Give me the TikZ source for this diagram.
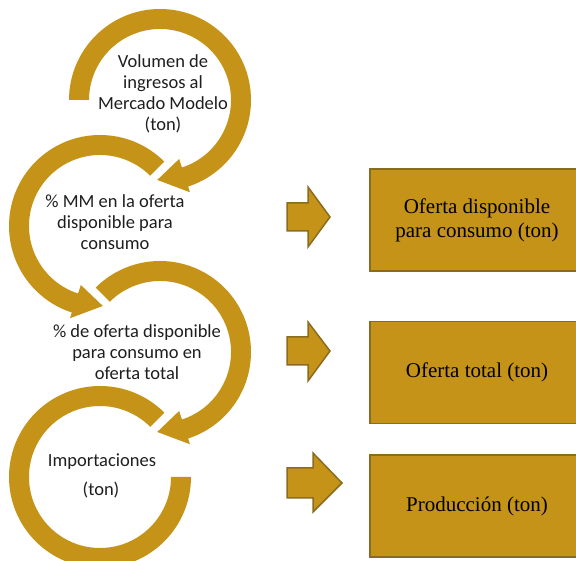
\documentclass[tikz,border=0pt]{standalone}
\usepackage{fontspec}
\setmainfont{Liberation Serif}
\newfontfamily\calib{Carlito}
\definecolor{gold}{RGB}{196,147,23}
\definecolor{goldedge}{RGB}{139,107,30}
\definecolor{ringink}{RGB}{30,30,30}
\begin{document}
\begin{tikzpicture}[x=1pt,y=1pt,
  ring/.style={fill=gold},
  blockarrow/.style={fill=gold,draw=goldedge,line width=1.5pt,line join=miter},
  outbox/.style={draw=goldedge,fill=gold,line width=1.2pt,minimum width=214pt,minimum height=102pt,inner sep=0pt,font=\fontsize{21}{24}\selectfont,align=center,text=black},
  ringtext/.style={font=\calib\fontsize{18.5}{20.8}\selectfont,align=center,text=ringink,inner sep=0pt}]
\clip (0,0) rectangle (576,560);
% ring 1
\fill[ring,shift={(160pt,460pt)}] (180:91pt) arc[start angle=180,end angle=-72,radius=91pt] -- (-72:97pt) -- (-92:80pt) -- (-72:62pt) -- (-72:71pt) arc[start angle=-72,end angle=180,radius=71pt] -- cycle;
% ring 2
\fill[ring,shift={(100pt,334pt)}] (45:91pt) arc[start angle=45,end angle=252,radius=91pt] -- (252:97pt) -- (272:80pt) -- (252:62pt) -- (252:71pt) arc[start angle=252,end angle=45,radius=71pt] -- cycle;
% ring 3
\fill[ring,shift={(160pt,208pt)}] (135:91pt) arc[start angle=135,end angle=-72,radius=91pt] -- (-72:97pt) -- (-92:80pt) -- (-72:62pt) -- (-72:71pt) arc[start angle=-72,end angle=135,radius=71pt] -- cycle;
% ring 4
\fill[ring,shift={(100pt,83pt)}] (45:91pt) arc[start angle=45,end angle=360,radius=91pt] -- (0:71pt) arc[start angle=360,end angle=45,radius=71pt] -- cycle;
% ring texts
\node[ringtext] (t1) at (163,466) {Volumen de\\ingresos al\\Mercado Modelo\\(ton)};
\node[ringtext] (t2) at (115,338) {\% MM en la oferta\\disponible para\\consumo};
\node[ringtext] (t3) at (137,208) {\% de oferta disponible\\para consumo en\\oferta total};
\node[ringtext] (t4a) at (102,98) {Importaciones};
\node[ringtext] (t4b) at (101,70) {(ton)};
% block arrows
\draw[blockarrow] (287,357) -- (308,357) -- (308,373) -- (330,343) -- (308,313) -- (308,329) -- (287,329) -- cycle;
\draw[blockarrow] (287,223) -- (308,223) -- (308,238) -- (330,209) -- (308,179) -- (308,195) -- (287,195) -- cycle;
\draw[blockarrow] (287,92) -- (313,92) -- (313,107) -- (342,77) -- (313,48) -- (313,62) -- (287,62) -- cycle;
% output boxes
\node[outbox] (b1) at (477,340) {Oferta disponible\\para consumo (ton)};
\node[outbox] (b2) at (477,187.5) {Oferta total (ton)};
\node[outbox] (b3) at (477,54) {Producción (ton)};
\end{tikzpicture}
\end{document}
